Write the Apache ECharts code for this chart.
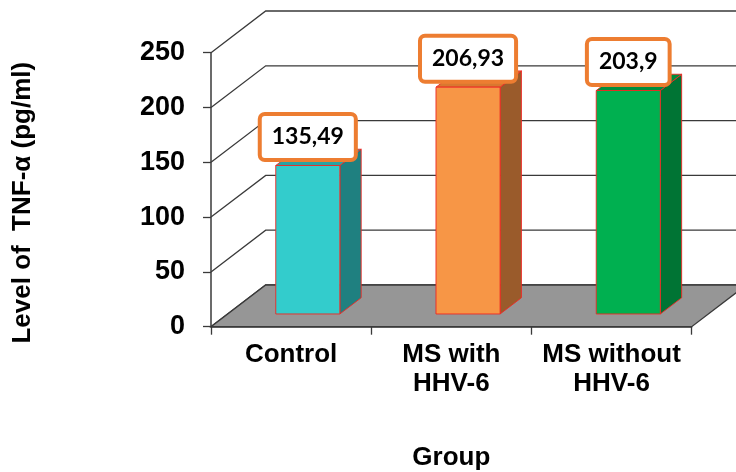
<!DOCTYPE html>
<html>
<head>
<meta charset="utf-8">
<script src="https://cdn.jsdelivr.net/npm/echarts@6/dist/echarts.min.js"></script>
<style>
  html, body { margin: 0; padding: 0; background: #ffffff; }
  #chart { width: 736px; height: 472px; }
</style>
</head>
<body>
<div id="chart"></div>
<script>
// TNF-alpha level by group
const groups = ['Control', 'MS with\nHHV-6', 'MS without\nHHV-6'];
const tnfLevels = [135.49, 206.93, 203.9];
const yTicks = [0, 50, 100, 150, 200, 250];

const frontColors = ['#33CCCC', '#F79646', '#00B050'];
const sideColors = ['#1F8080', '#9A5B2B', '#007434'];
const topColors = ['#28A4A4', '#D97830', '#008E3E'];

// oblique depth of the plot box, in pixels (right and up)
const DEPTH_X = 54.7;
const DEPTH_Y = -41.7;
// where each bar sits inside that depth, and its share of a category band
const BAR_FRONT = 0.305;
const BAR_BACK = 0.695;
const BAR_SHARE = 0.4;

const AXIS_FONT = '"Liberation Sans", Arial, sans-serif';
const EDGE = '#3a3a3a';

function decimalComma(v) {
  return String(v).replace('.', ',');
}

// left wall diagonals and back wall gridlines, one per y tick
function renderWall(params, api) {
  const cs = params.coordSys;
  const y = api.coord([0, api.value(1)])[1];
  const left = cs.x;
  const right = cs.x + cs.width;
  return {
    type: 'polyline',
    shape: { points: [[left, y], [left + DEPTH_X, y + DEPTH_Y], [right + DEPTH_X, y + DEPTH_Y]] },
    style: { stroke: EDGE, lineWidth: 1.3, fill: null }
  };
}

// grey floor of the plot box
function renderFloor(params, api) {
  const cs = params.coordSys;
  const y = api.coord([0, 0])[1];
  const left = cs.x;
  const right = cs.x + cs.width;
  return {
    type: 'polygon',
    shape: { points: [[left, y], [right, y], [right + DEPTH_X, y + DEPTH_Y], [left + DEPTH_X, y + DEPTH_Y]] },
    style: { fill: '#969696', stroke: EDGE, lineWidth: 1.3 }
  };
}

// prism bars with a boxed value label
function renderBar(params, api) {
  const i = api.value(0);
  const v = api.value(1);
  const base = api.coord([i, 0]);
  const top = api.coord([i, v]);
  const half = api.size([1, 0])[0] * BAR_SHARE / 2;
  const fx = DEPTH_X * BAR_FRONT, fy = DEPTH_Y * BAR_FRONT;
  const bx = DEPTH_X * BAR_BACK, by = DEPTH_Y * BAR_BACK;
  const xl = base[0] - half, xr = base[0] + half;
  const y0 = base[1], y1 = top[1];
  const edge = { stroke: 'rgba(238,40,36,0.9)', lineWidth: 1 };
  return {
    type: 'group',
    children: [
      {
        type: 'polygon',
        shape: { points: [[xr + fx, y0 + fy], [xr + bx, y0 + by], [xr + bx, y1 + by], [xr + fx, y1 + fy]] },
        style: Object.assign({ fill: sideColors[i] }, edge)
      },
      {
        type: 'polygon',
        shape: { points: [[xl + fx, y1 + fy], [xr + fx, y1 + fy], [xr + bx, y1 + by], [xl + bx, y1 + by]] },
        style: Object.assign({ fill: topColors[i] }, edge)
      },
      {
        type: 'rect',
        shape: { x: xl + fx, y: y1 + fy, width: xr - xl, height: y0 - y1 },
        style: Object.assign({ fill: frontColors[i] }, edge)
      },
      {
        type: 'text',
        x: base[0] + fx,
        y: y1 + fy - 7.5,
        z2: 10,
        style: {
          text: decimalComma(v),
          fill: '#000000',
          fontFamily: 'Lato, "Open Sans", sans-serif',
          fontWeight: 'bold',
          fontSize: 23,
          lineHeight: 26,
          align: 'center',
          verticalAlign: 'bottom',
          backgroundColor: '#ffffff',
          borderColor: '#ED7D31',
          borderWidth: 4,
          borderRadius: 3,
          padding: [8, 10]
        }
      }
    ]
  };
}

const chart = echarts.init(document.getElementById('chart'), null, { renderer: 'canvas' });

chart.setOption({
  animation: false,
  backgroundColor: '#ffffff',
  grid: {
    left: 211, right: 44.3, top: 52.7, bottom: 145.3,
    containLabel: false, outerBoundsMode: 'none'
  },
  xAxis: {
    type: 'category',
    data: groups,
    axisLine: { show: true, lineStyle: { color: EDGE, width: 1.5 } },
    axisTick: { show: true, length: 8, lineStyle: { color: EDGE, width: 1.3 } },
    axisLabel: {
      interval: 0, margin: 14, color: '#000000',
      fontFamily: AXIS_FONT, fontWeight: 'bold', fontSize: 26, lineHeight: 29
    },
    splitLine: { show: false },
    name: 'Group',
    nameLocation: 'middle',
    nameGap: 118,
    nameTextStyle: { color: '#000000', fontFamily: AXIS_FONT, fontWeight: 'bold', fontSize: 26 }
  },
  yAxis: {
    type: 'value',
    min: 0, max: 250, interval: 50,
    axisLine: { show: true, lineStyle: { color: EDGE, width: 1.5 } },
    axisTick: { show: true, length: 8, lineStyle: { color: EDGE, width: 1.3 } },
    axisLabel: {
      margin: 26, color: '#000000',
      fontFamily: AXIS_FONT, fontWeight: 'bold', fontSize: 27
    },
    splitLine: { show: false },
    name: 'Level of  TNF-\u03b1 (pg/ml)',
    nameLocation: 'middle',
    nameRotate: 90,
    nameGap: 175,
    nameTextStyle: {
      color: '#000000', fontFamily: AXIS_FONT, fontWeight: 'bold', fontSize: 26,
      padding: [0, 26, 0, 0]
    }
  },
  series: [
    {
      type: 'custom',
      name: 'walls',
      clip: false,
      z: 1,
      silent: true,
      renderItem: renderWall,
      encode: { x: 0, y: 1 },
      data: yTicks.map(t => [0, t])
    },
    {
      type: 'custom',
      name: 'floor',
      clip: false,
      z: 2,
      silent: true,
      renderItem: renderFloor,
      encode: { x: 0, y: 1 },
      data: [[0, 0]]
    },
    {
      type: 'custom',
      name: 'TNF-\u03b1',
      clip: false,
      z: 3,
      renderItem: renderBar,
      encode: { x: 0, y: 1 },
      data: tnfLevels.map((v, i) => [i, v])
    }
  ]
});
</script>
</body>
</html>
